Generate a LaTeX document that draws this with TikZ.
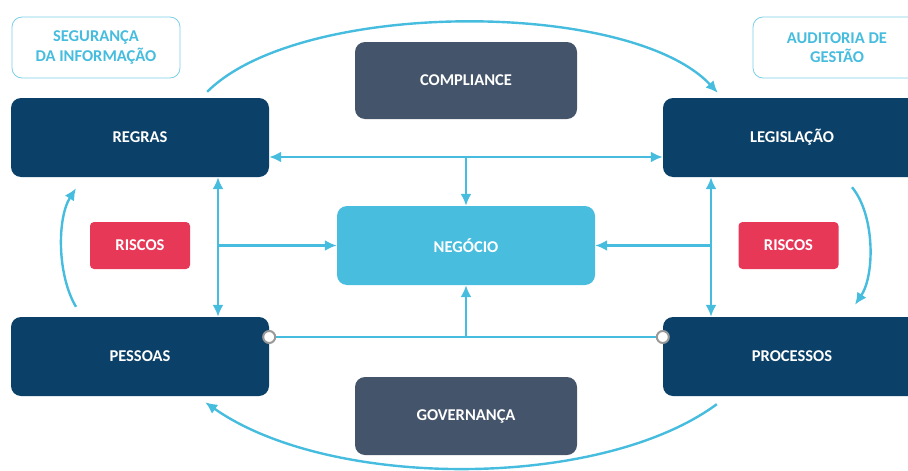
\documentclass[tikz,border=0pt]{standalone}
\usepackage{fontspec}
\setmainfont{Carlito}
\usetikzlibrary{arrows.meta,calc}
\definecolor{navy}{RGB}{11,65,104}
\definecolor{slate}{RGB}{68,84,106}
\definecolor{sky}{RGB}{72,189,222}
\definecolor{risk}{RGB}{232,56,88}
\definecolor{wire}{RGB}{70,188,222}

\tikzset{
  box/.style={rounded corners=10pt,minimum width=258pt,minimum height=79pt,
    text=white,font=\fontsize{16.5}{18}\selectfont\bfseries},
  bigbox/.style={box,fill=navy},
  midbox/.style={box,fill=slate,minimum width=222pt,minimum height=77pt},
  riskbox/.style={box,fill=risk,rounded corners=4pt,minimum width=100pt,minimum height=47pt},
  tagbox/.style={draw=wire!70,line width=0.8pt,rounded corners=10pt,minimum width=168pt,
    minimum height=61pt,text=wire,align=center,font=\fontsize{16.5}{19.5}\selectfont\bfseries},
  wire/.style={draw=wire,line width=2.4pt},
  tip/.style={wire,-{Latex[length=12pt,width=11pt]}},
  tips/.style={wire,{Latex[length=12pt,width=11pt]}-{Latex[length=12pt,width=11pt]}},
  knob/.style={circle,draw=gray!80,fill=white,line width=2pt,minimum size=12pt,inner sep=0pt}
}

\begin{document}
\begin{tikzpicture}[x=1pt,y=-1pt]
  \useasboundingbox (0,0) rectangle (908,471);

  % labels on top
  \node[tagbox] (seg) at (96,47.5) {SEGURANÇA\\DA INFORMAÇÃO};
  \node[tagbox] (aud) at (837,47.5) {AUDITORIA DE\\GESTÃO};

  % boxes
  \node[midbox] (compliance) at (466,80.5) {COMPLIANCE};
  \node[bigbox] (regras) at (140,137.5) {REGRAS};
  \node[bigbox] (legis) at (792,137.5) {LEGISLAÇÃO};
  \node[box,fill=sky] (negocio) at (466,245.5) {NEGÓCIO};
  \node[riskbox] (riscosl) at (140,245.5) {RISCOS};
  \node[riskbox] (riscosr) at (788.5,245.5) {RISCOS};
  \node[bigbox] (pessoas) at (140,356.5) {PESSOAS};
  \node[bigbox] (processos) at (792,356.5) {PROCESSOS};
  \node[midbox,minimum height=78pt] (gov) at (466,416) {GOVERNANÇA};

  % inner wires
  \coordinate (top) at (466,157);
  \coordinate (lv) at (218,245.5);
  \coordinate (rv) at (711,245.5);
  \coordinate (bot) at (466,337);

  \draw[tips] (regras.east |- top) -- (legis.west |- top);
  \draw[tip] (top) -- (negocio.north);
  \draw[tips] (regras.south -| lv) -- (pessoas.north -| lv);
  \draw[tip] (lv) -- (negocio.west);
  \draw[tips] (legis.south -| rv) -- (processos.north -| rv);
  \draw[tip] (rv) -- (negocio.east);
  \draw[wire] (pessoas.east |- bot) -- (processos.west |- bot);
  \draw[tip] (bot) -- (negocio.south);
  \node[knob] at (pessoas.east |- bot) {};
  \node[knob] at (processos.west |- bot) {};

  % outer cycle
  \coordinate (a1) at ($(regras.north east)+(-62,-6)$);
  \coordinate (a2) at ($(legis.north west)+(55,-5)$);
  \coordinate (b1) at ($(legis.south)+(60,10)$);
  \coordinate (b2) at ($(processos.north)+(63,-12)$);
  \coordinate (c1) at ($(processos.south west)+(54,8)$);
  \coordinate (c2) at ($(pessoas.south east)+(-64,6)$);
  \coordinate (d1) at ($(pessoas.north)+(-64,-10)$);
  \coordinate (d2) at ($(regras.south)+(-64,11)$);
  \draw[tip] (a1) .. controls (300,-1) and (630,-1) .. (a2);
  \draw[tip] (b1) .. controls (875,215) and (875,275) .. (b2);
  \draw[tip] (c1) .. controls (600,490) and (330,490) .. (c2);
  \draw[tip] (d1) .. controls (57,275) and (57,218) .. (d2);
\end{tikzpicture}
\end{document}
